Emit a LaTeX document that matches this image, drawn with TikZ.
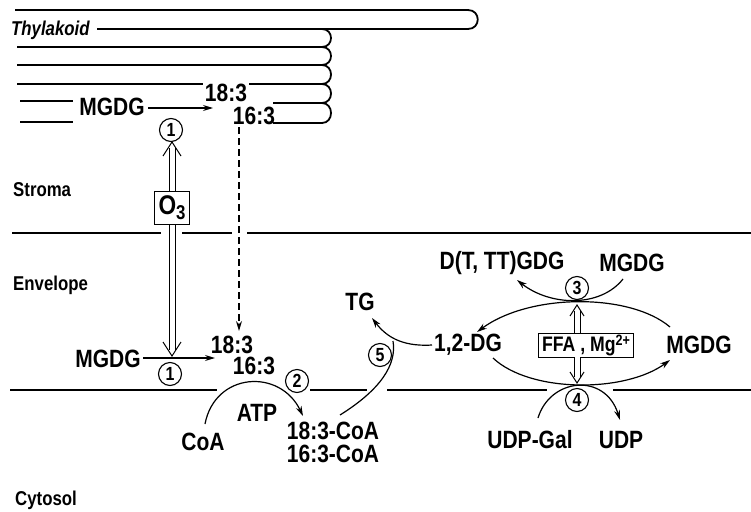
\documentclass[tikz,border=0pt]{standalone}
\usepackage{fontspec}
\setmainfont{Liberation Sans}[FakeStretch=0.84]
\usetikzlibrary{arrows.meta}
\begin{document}
\begin{tikzpicture}[x=1pt,y=-1pt,
  memb/.style={line width=1.8pt},
  lbl/.style={font=\fontsize{25}{25}\selectfont\bfseries, inner sep=0pt},
  smalllbl/.style={font=\fontsize{20}{20}\selectfont\bfseries, inner sep=0pt, anchor=west},
  num/.style={circle, draw, line width=1.1pt, minimum size=23pt, inner sep=0pt, font=\fontsize{19}{19}\selectfont\bfseries},
  rx/.style={line width=1.2pt, -{Stealth[length=10pt,width=6pt]}},
  dashrx/.style={rx, dash pattern=on 7pt off 4pt},
  dbl/.style={line width=1pt, double distance=5pt},
  vhead/.style={line width=1pt},
  boxlbl/.style={draw, fill=white, line width=1pt, inner sep=0pt}
]
\useasboundingbox (0,0) rectangle (751,511);

% ---- thylakoid ----
\draw[memb] (15,10) -- (468,10) .. controls (481,10) and (481,29) .. (468,29) -- (97,29);
\draw[memb] (322,29) .. controls (334,29) and (334,47) .. (322,47);
\draw[memb] (17,47) -- (322,47) .. controls (334,47) and (334,65) .. (322,65);
\draw[memb] (17,65) -- (322,65) .. controls (334,65) and (334,84) .. (322,84);
\draw[memb] (17,84) -- (203,84);
\draw[memb] (249,84) -- (322,84) .. controls (334,84) and (334,103) .. (322,103);
\draw[memb] (20,101) -- (73,101);
\draw[memb] (273,103) -- (322,103) .. controls (334,103) and (334,123) .. (322,123);
\draw[memb] (20,122) -- (73,122);
\draw[memb] (273,123) -- (322,123);

% ---- membranes ----
\draw[memb] (12,233) -- (161,233);
\draw[memb] (182,233) -- (232,233);
\draw[memb] (247,233) -- (751,233);
\draw[memb] (10,390) -- (217,390);
\draw[memb] (310,390) -- (367,390);
\draw[memb] (387,390) -- (547,390);
\draw[memb] (613,390) -- (751,390);

% ---- region labels ----
\node[smalllbl, font=\fontsize{20}{20}\selectfont\bfseries\itshape] (thy) at (11,30) {Thylakoid};
\node[smalllbl] (stroma) at (13,190) {Stroma};
\node[smalllbl] (env) at (13,285) {Envelope};
\node[smalllbl] (cyt) at (15,500) {Cytosol};

% ---- thylakoid reaction ----
\node[lbl] (mgdgT) at (112,107) {MGDG};
\node[lbl] (f18T) at (226,93) {18:3};
\node[lbl] (f16T) at (254,116) {16:3};
\node[num] (n1T) at (171,130) {1};
\coordinate (aT1) at (148,108);
\coordinate (aT2) at (213,108);
\draw[rx] (aT1) -- (aT2);

% ---- dashed transfer ----
\coordinate (dT) at (239,127);
\coordinate (dB) at (239,331);
\draw[dashrx] (dT) -- (dB);

% ---- ozone double arrow ----
\coordinate (o3top) at (172,142);
\coordinate (o3bot) at (172,356);
\draw[dbl] (172,148) -- (172,350);
\draw[vhead] (163,156) -- (o3top) -- (181,156);
\draw[vhead] (163,342) -- (o3bot) -- (181,342);
\node[boxlbl, minimum width=35pt, minimum height=33pt, font=\fontsize{27}{27}\selectfont\bfseries] (o3) at (172,208) {O\raisebox{-5pt}{\fontsize{20}{20}\selectfont 3}};

% ---- envelope reaction ----
\node[lbl] (mgdgB) at (108,359) {MGDG};
\node[lbl] (f18B) at (232,345) {18:3};
\node[lbl] (f16B) at (254,366) {16:3};
\node[num] (n1B) at (170,374) {1};
\coordinate (aB1) at (143,358);
\coordinate (aB2) at (215,358);
\draw[rx] (aB1) -- (aB2);

% ---- acyl-CoA synthesis ----
\node[num] (n2) at (297,381) {2};
\node[lbl] (atp) at (257,413) {ATP};
\node[lbl] (coa) at (203,442) {CoA};
\node[lbl] (c18) at (333,431) {18:3-CoA};
\node[lbl] (c16) at (333,454) {16:3-CoA};
\coordinate (cA) at (205,424);
\coordinate (cB) at (303,416);
\draw[rx] (cA) .. controls (215,372) and (280,368) .. (cB);

% ---- TG formation ----
\node[lbl] (tg) at (360,302) {TG};
\node[num] (n5) at (380,355) {5};
\node[lbl] (dg) at (468,345) {1,2-DG};
\coordinate (tgA) at (432,345);
\coordinate (tgB) at (372,318);
\draw[rx] (tgA) .. controls (400,347) and (385,335) .. (tgB);
\coordinate (c5A) at (340,415);
\coordinate (c5B) at (393,341);
\draw[line width=1.2pt] (c5A) .. controls (380,390) and (397,365) .. (c5B);

% ---- galactolipid cycle ----
\node[lbl] (dtgdg) at (502,263) {D(T, TT)GDG};
\node[lbl] (mgdgR1) at (632,263) {MGDG};
\node[num] (n3) at (577,288) {3};
\coordinate (g3A) at (623,279);
\coordinate (g3B) at (517,280);
\draw[rx] (g3A) .. controls (600,308) and (550,306) .. (g3B);

\node[lbl] (mgdgR2) at (699,345) {MGDG};
\coordinate (eTA) at (670,327);
\coordinate (eTB) at (477,332);
\draw[rx] (eTA) .. controls (630,293) and (530,293) .. (eTB);
\coordinate (eBA) at (493,358);
\coordinate (eBB) at (670,360);
\draw[rx] (eBA) .. controls (530,393) and (625,393) .. (eBB);

\node[boxlbl, minimum width=95pt, minimum height=24pt, font=\fontsize{21}{21}\selectfont\bfseries] (ffa) at (586,345) {FFA , Mg\raisebox{6pt}{\fontsize{15}{15}\selectfont 2+}};
\coordinate (fUp) at (577,305);
\coordinate (fDn) at (577,383);
\draw[dbl] (577,311) -- (577,333);
\draw[vhead] (570,316) -- (fUp) -- (584,316);
\draw[dbl] (577,357) -- (577,377);
\draw[vhead] (570,372) -- (fDn) -- (584,372);

\node[num] (n4) at (577,400) {4};
\node[lbl] (udpgal) at (530,440) {UDP-Gal};
\node[lbl] (udp) at (621,440) {UDP};
\coordinate (g4A) at (538,418);
\coordinate (g4B) at (620,420);
\draw[rx] (g4A) .. controls (550,378) and (605,372) .. (g4B);
\end{tikzpicture}
\end{document}
